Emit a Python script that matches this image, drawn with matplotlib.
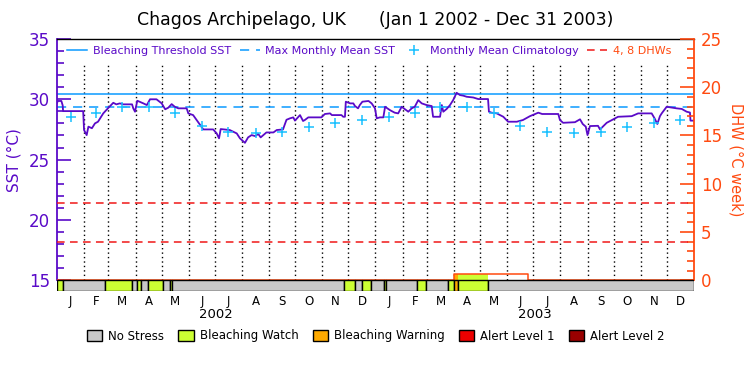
import numpy as np
import matplotlib.pyplot as plt
from matplotlib.patches import Patch

site = "Chagos Archipelago, UK"
period = "(Jan 1 2002 - Dec 31 2003)"
years = ["2002", "2003"]
month_letters = ["J", "F", "M", "A", "M", "J", "J", "A", "S", "O", "N", "D"] * 2

# daily SST (deg C), x = days since Jan 1 2002
sst_day = [0, 1, 5, 6.5, 7, 30, 31, 34, 36, 40, 43.5, 47, 53, 59, 64.5, 68, 72, 76, 86,
           87.4, 89.4, 92, 99, 103, 106.6, 114, 120, 124, 127.5, 131.4, 135, 139, 148.6,
           150.5, 156, 160, 164, 167.7, 179, 183, 185.7, 187.6, 198, 206, 209.7, 215.4,
           219, 223, 227, 230.7, 233.4, 240, 248, 251.8, 259, 263, 267, 270.8, 272.7,
           278.5, 282, 284, 288, 303, 307, 313, 315, 326, 328, 330, 331, 336, 339.6,
           341.5, 345, 347, 350, 357, 360.6, 364.4, 366.4, 370, 374, 376, 381.6, 387,
           391, 395, 399, 402.6, 406.5, 410, 414, 418, 423.7, 429.4, 431, 439, 441,
           442.7, 446.6, 450.4, 454, 458, 461.8, 465.6, 469.5, 477, 482.8, 494, 495,
           498, 504, 511.5, 517, 527, 534, 542, 551.6, 556, 574.5, 576.4, 580, 593.6,
           599.4, 602.5, 606, 608, 610.8, 620, 622.3, 630, 637.5, 643, 658.6, 666,
           681.5, 685, 688, 691, 693, 698.7, 710, 716, 721.6, 725.4, 726, 730]
sst_val = [29.7, 29.86, 29.86, 29.5, 29.02, 29.02, 27.45, 27.03, 27.73, 27.6, 28.0, 28.14,
           28.83, 29.3, 29.71, 29.58, 29.66, 29.58, 29.58, 29.25, 28.97, 29.88, 29.66,
           29.52, 30.0, 30.0, 29.66, 29.17, 29.3, 29.6, 29.38, 29.25, 29.25, 28.83, 28.69,
           28.28, 27.86, 27.5, 27.5, 27.17, 26.76, 27.53, 27.45, 27.17, 26.76, 26.39,
           26.84, 27.03, 26.95, 27.12, 26.84, 27.25, 27.25, 27.45, 27.5, 28.3, 28.42,
           28.5, 28.23, 28.69, 28.2, 28.28, 28.5, 28.5, 28.78, 28.83, 28.69, 28.69, 28.55,
           28.55, 29.8, 29.66, 29.66, 29.44, 29.25, 29.52, 29.8, 29.86, 29.66, 29.25,
           28.42, 28.5, 28.5, 29.38, 29.1, 28.89, 28.83, 29.38, 29.17, 28.97, 29.25,
           29.38, 29.93, 29.66, 29.52, 29.44, 28.55, 28.55, 29.52, 28.97, 29.2, 29.52,
           29.93, 30.54, 30.35, 30.3, 30.21, 30.15, 30.02, 30.02, 28.97, 28.89, 28.83,
           28.55, 28.14, 28.14, 28.28, 28.6, 28.89, 28.78, 28.78, 28.28, 28.05, 28.1,
           28.34, 27.95, 27.73, 27.03, 27.78, 27.8, 27.5, 28.05, 28.34, 28.55, 28.6,
           28.83, 28.83, 28.4, 27.95, 28.6, 28.83, 29.38, 29.25, 29.2, 28.97, 28.9,
           28.23, 28.23]

mmm = 29.4
threshold = 30.4
dhw_levels = [4, 8]

# monthly mean climatology, Jan..Dec
clim = [28.5, 28.9, 29.33, 29.38, 28.9, 27.8, 27.25, 27.17, 27.3, 27.67, 28.0, 28.28]

# degree heating weeks (step)
dhw_day = [0, 455, 540, 730]
dhw_val = [0, 0.6, 0, 0]

# stress level strip: 0 no stress, 1 watch, 2 warning, 3 alert 1, 4 alert 2
stress_start = [0, 7, 55, 86, 92, 96, 104, 121, 129, 132, 329, 342, 349, 360, 375,
                377, 413, 423, 448, 455, 459, 494]
stress_end = stress_start[1:] + [730]
stress_level = [1, 0, 1, 0, 1, 0, 1, 0, 1, 0, 1, 0, 1, 0, 1, 0, 1, 0, 1, 2, 1, 0]

level_names = ["No Stress", "Bleaching Watch", "Bleaching Warning", "Alert Level 1", "Alert Level 2"]
level_colors = ["#c8c8c8", "#ccff33", "#ffaa00", "#ee0000", "#990000"]

purple = "#5a0ac8"
orange = "#ff4a10"
blue = "#0a9aff"
cyan = "#18c0ff"
red = "#f01818"

# month positions in days
months = np.arange("2002-01", "2004-02", dtype="datetime64[M]").astype("datetime64[D]")
mdays = (months - np.datetime64("2002-01-01")).astype(int)
month_start = mdays[:-1]
month_mid = (mdays[:-1] + mdays[1:]) / 2.0

ylo, yhi = 14.1, 35
dlo, dhi = (ylo - 15) * 1.25, 25

fig = plt.figure(figsize=(7.5, 3.75), dpi=100)
ax = fig.add_axes([0.076, 0.224, 0.8493, 0.672])
ax2 = ax.twinx()

ax.set_xlim(0, 730)
ax.set_ylim(ylo, yhi)
ax2.set_ylim(dlo, dhi)

# month dividers
ax.vlines(month_start[1:], 15, 33, colors="black", linestyles=(0, (1, 2.2)), lw=1, zorder=1)

l_thr = ax.axhline(threshold, color=blue, lw=1.1, zorder=2, label="Bleaching Threshold SST")
l_mmm = ax.axhline(mmm, color=blue, lw=1.1, ls=(0, (6, 4.5)), zorder=2, label="Max Monthly Mean SST")
l_clim, = ax.plot(month_mid, clim * 2, ls="none", marker="+", ms=7, mew=1.1, color=cyan,
                  zorder=4, label="Monthly Mean Climatology")
ax.plot(sst_day, sst_val, color=purple, lw=1.3, zorder=3)

l_dhw = None
for lv in dhw_levels:
    l_dhw = ax2.axhline(lv, color=red, lw=1.1, ls=(0, (5, 3.5)), zorder=2, label="4, 8 DHWs")

# fill under DHW by stress colour
for s, e, lv in zip(stress_start, stress_end, stress_level):
    if lv > 0:
        h = dhw_val[np.searchsorted(dhw_day, s, side="right") - 1]
        if h > 0:
            ax2.bar(s, h, width=e - s, bottom=0, align="edge", color=level_colors[lv],
                    lw=0, zorder=2)
ax2.step(dhw_day, dhw_val, where="post", color=orange, lw=1.1, zorder=3)

# stress strip
for s, e, lv in zip(stress_start, stress_end, stress_level):
    ax2.bar(s, 0 - dlo, width=e - s, bottom=dlo, align="edge", color=level_colors[lv],
            edgecolor="black", lw=1, zorder=4)

# spines and ticks
for sp in ["bottom", "right"]:
    ax.spines[sp].set_visible(False)
for sp in ["top", "bottom", "left"]:
    ax2.spines[sp].set_visible(False)
ax.spines["top"].set_color("black")
ax.spines["top"].set_linewidth(1)
ax.spines["left"].set_color(purple)
ax.spines["left"].set_linewidth(1.3)
ax.spines["left"].set_bounds(15, 35)
ax2.spines["right"].set_color(orange)
ax2.spines["right"].set_linewidth(1.3)
ax2.spines["right"].set_bounds(0, 25)

ax.set_yticks(np.arange(15, 36, 5))
ax.set_yticks(np.arange(15, 36, 1), minor=True)
ax.tick_params(axis="y", which="major", direction="in", length=10, width=1.2,
               colors=purple, labelsize=12, pad=5)
ax.tick_params(axis="y", which="minor", direction="in", length=5, width=1.2, colors=purple)

ax2.set_yticks(np.arange(0, 26, 5))
ax2.set_yticks(np.arange(0, 26, 1), minor=True)
ax2.tick_params(axis="y", which="major", direction="in", length=10, width=1.2,
                colors=orange, labelsize=12, pad=5)
ax2.tick_params(axis="y", which="minor", direction="in", length=5, width=1.2, colors=orange)

ax.set_xticks(month_mid)
ax.set_xticklabels(month_letters)
ax.tick_params(axis="x", length=0, labelsize=8.5, pad=3)
for i, yr in enumerate(years):
    ax.text(365 * i + 182.5, -0.095, yr, transform=ax.get_xaxis_transform(),
            ha="center", va="center", fontsize=9.5)

ax.set_ylabel("SST (°C)", color=purple, fontsize=11)
ax.yaxis.set_label_coords(-0.056, 0.52)
ax2.set_ylabel("DHW (°C week)", color=orange, fontsize=10.5, rotation=270, va="center")
ax2.yaxis.set_label_coords(1.066, 0.52)

fig.text(0.5, 0.947, site + "      " + period, ha="center", va="center", fontsize=12.5)

leg = ax2.legend(handles=[l_thr, l_mmm, l_clim, l_dhw], ncol=4, loc="center",
                 bbox_to_anchor=(0.49, 0.952), frameon=False, fontsize=8,
                 handlelength=1.8, handletextpad=0.5, columnspacing=0.8)
for t, c in zip(leg.get_texts(), [purple, purple, purple, orange]):
    t.set_color(c)

patches = [Patch(facecolor=c, edgecolor="black", lw=1) for c in level_colors]
fig.legend(handles=patches, labels=level_names, ncol=5, loc="center",
           bbox_to_anchor=(0.501, 0.104), frameon=False, fontsize=8.5,
           handlelength=1.3, handleheight=1.0, handletextpad=0.5, columnspacing=1.2)

fig.savefig("out.png", dpi=100)
